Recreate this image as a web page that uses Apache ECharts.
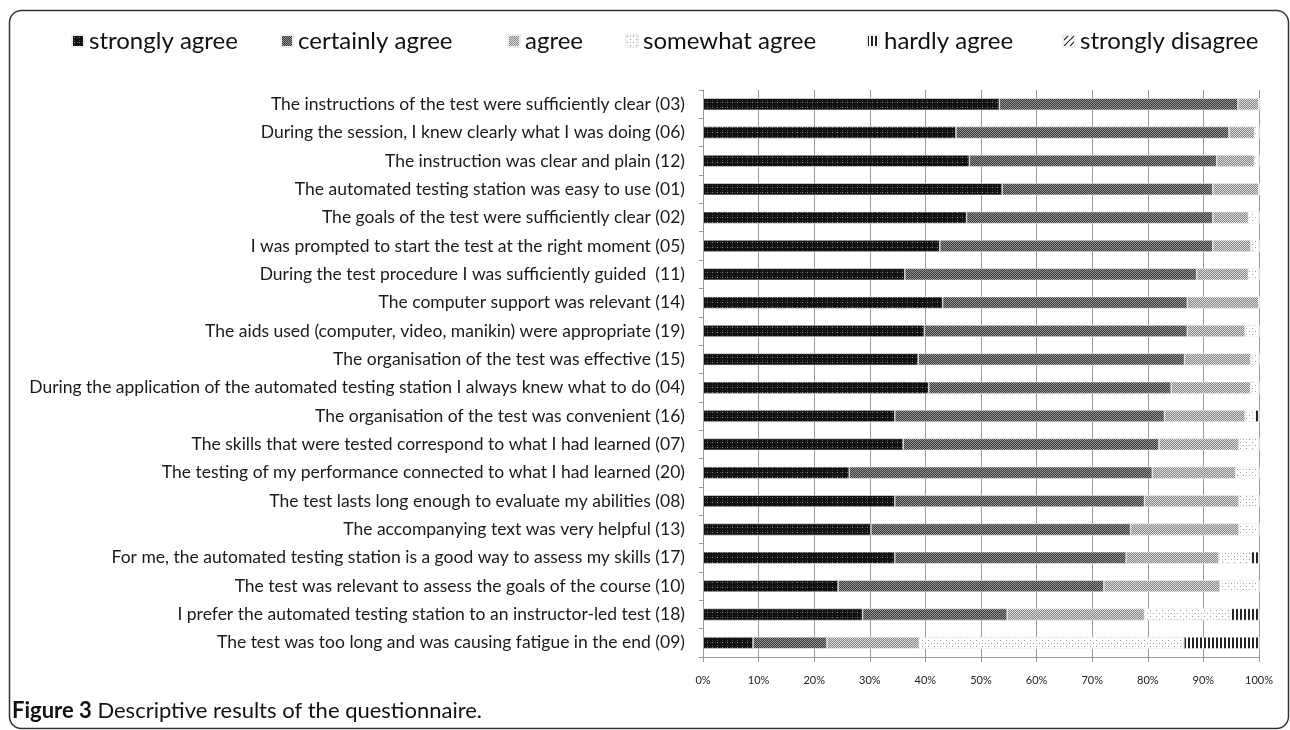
<!DOCTYPE html>
<html>
<head>
<meta charset="utf-8">
<script src="https://cdn.jsdelivr.net/npm/echarts@6/dist/echarts.min.js"></script>
<style>
html,body{margin:0;padding:0;background:#fff;}
#main{width:1290px;height:730px;}
</style>
</head>
<body>
<div id="main"></div>
<script>
const categories = [
  "The instructions of the test were sufficiently clear (03)",
  "During the session, I knew clearly what I was doing (06)",
  "The instruction was clear and plain (12)",
  "The automated testing station was easy to use (01)",
  "The goals of the test were sufficiently clear (02)",
  "I was prompted to start the test at the right moment (05)",
  "During the test procedure I was sufficiently guided  (11)",
  "The computer support was relevant (14)",
  "The aids used (computer, video, manikin) were appropriate (19)",
  "The organisation of the test was effective (15)",
  "During the application of the automated testing station I always knew what to do (04)",
  "The organisation of the test was convenient (16)",
  "The skills that were tested correspond to what I had learned (07)",
  "The testing of my performance connected to what I had learned (20)",
  "The test lasts long enough to evaluate my abilities (08)",
  "The accompanying text was very helpful (13)",
  "For me, the automated testing station is a good way to assess my skills (17)",
  "The test was relevant to assess the goals of the course (10)",
  "I prefer the automated testing station to an instructor-led test (18)",
  "The test was too long and was causing fatigue in the end (09)"
];
const seriesNames = ["strongly agree","certainly agree","agree","somewhat agree","hardly agree","strongly disagree"];
const stronglyAgree    = [53.3,45.5,47.9,53.8,47.4,42.6,36.3,43.1,39.8,38.7,40.6,34.5,36.0,26.3,34.5,30.2,34.5,24.3,28.7,9.0];
const certainlyAgree   = [42.9,49.1,44.5,37.9,44.3,49.1,52.5,44.0,47.3,47.9,43.6,48.5,46.0,54.5,44.9,46.7,41.6,47.8,26.0,13.3];
const agree            = [3.8,4.6,6.8,8.3,6.4,6.8,9.3,12.9,10.4,11.9,14.3,14.5,14.4,15.0,17.0,19.5,16.7,20.9,24.7,16.6];
const somewhatAgree    = [0,0.8,0.8,0,1.9,1.5,1.9,0,2.5,1.5,1.5,1.8,3.6,4.2,3.6,3.6,5.8,7.0,15.4,47.6];
const hardlyAgree      = [0,0,0,0,0,0,0,0,0,0,0,0.7,0,0,0,0,1.4,0,5.2,13.5];
const stronglyDisagree = [0,0,0,0,0,0,0,0,0,0,0,0,0,0,0,0,0,0,0,0];
const xTicks = [0,10,20,30,40,50,60,70,80,90,100];

function makePattern(w, h, draw) {
  const c = document.createElement('canvas');
  c.width = w; c.height = h;
  const ctx = c.getContext('2d');
  draw(ctx, w, h);
  return { image: c, repeat: 'repeat' };
}
const patterns = [
  makePattern(5, 5, (ctx) => { ctx.fillStyle = '#111'; ctx.fillRect(0,0,5,5); ctx.fillStyle = '#8a8a8a'; ctx.fillRect(2,2,1,1); ctx.fillStyle='#444'; ctx.fillRect(2,0,1,1); ctx.fillRect(0,2,1,1); }),
  makePattern(2, 2, (ctx) => { ctx.fillStyle = '#383838'; ctx.fillRect(0,0,2,2); ctx.fillStyle = '#959595'; ctx.fillRect(0,0,1,1); ctx.fillRect(1,1,1,1); }),
  makePattern(2, 2, (ctx) => { ctx.fillStyle = '#858585'; ctx.fillRect(0,0,2,2); ctx.fillStyle = '#dcdcdc'; ctx.fillRect(0,0,1,1); ctx.fillRect(1,1,1,1); }),
  makePattern(6, 6, (ctx) => { ctx.fillStyle = '#fff'; ctx.fillRect(0,0,6,6); ctx.fillStyle = '#9a9a9a'; ctx.fillRect(1,1,1,1); ctx.fillRect(4,4,1,1); ctx.fillStyle='#c8c8c8'; ctx.fillRect(4,1,1,1); }),
  makePattern(4, 4, (ctx) => { ctx.fillStyle = '#fff'; ctx.fillRect(0,0,4,4); ctx.fillStyle = '#222'; ctx.fillRect(0,0,2,4); }),
  makePattern(6, 6, (ctx) => { ctx.fillStyle = '#fff'; ctx.fillRect(0,0,6,6); ctx.strokeStyle = '#222'; ctx.lineWidth = 1.2; ctx.beginPath(); ctx.moveTo(0,6); ctx.lineTo(6,0); ctx.stroke(); })
];
const values = [stronglyAgree, certainlyAgree, agree, somewhatAgree, hardlyAgree, stronglyDisagree];

const legendLefts = [66, 275, 502, 620, 861, 1057];
const legends = seriesNames.map((n, i) => ({
  data: [n], left: legendLefts[i], top: 24, orient: 'horizontal',
  itemWidth: 12, itemHeight: 12, icon: 'rect',
  textStyle: { fontFamily: 'Lato', fontSize: 24, color: '#111' },
  selectedMode: false
}));

const chart = echarts.init(document.getElementById('main'), null, { renderer: 'canvas' });
chart.setOption({
  animation: false,
  backgroundColor: '#fff',
  legend: legends,
  grid: { left: 703, right: 31, top: 90, bottom: 73, containLabel: false },
  xAxis: {
    type: 'value', min: 0, max: 100, interval: 10,
    axisLine: { show: true, lineStyle: { color: '#999', width: 1 } },
    axisTick: { show: true, length: 5, lineStyle: { color: '#999' } },
    splitLine: { show: true, lineStyle: { color: '#999', width: 1 } },
    axisLabel: { formatter: '{value}%', fontFamily: 'Lato', fontSize: 11, color: '#222', margin: 18 }
  },
  yAxis: {
    type: 'category', data: categories, inverse: true, z: 10,
    axisLine: { show: true, lineStyle: { color: '#999', width: 1 } },
    axisTick: { show: true, length: 4, lineStyle: { color: '#999' } },
    axisLabel: { fontFamily: 'Lato', fontSize: 17.5, color: '#1a1a1a', margin: 18, align: 'right' }
  },
  series: seriesNames.map((n, i) => ({
    name: n, type: 'bar', stack: 'total', barWidth: 12,
    data: values[i],
    itemStyle: { color: patterns[i], borderColor: '#eee', borderWidth: 0.6 }
  })),
  graphic: [
    { type: 'rect', left: 7, top: 8, shape: { width: 1279, height: 718, r: 12 },
      style: { fill: 'none', stroke: '#333', lineWidth: 1.5 }, silent: true, z: 100 },
    { type: 'text', left: 12, top: 700,
      style: {
        text: '{b|Figure 3} Descriptive results of the questionnaire.',
        rich: { b: { fontWeight: 'bold', fontFamily: 'Lato', fontSize: 22, fill: '#111' } },
        fontFamily: 'Lato', fontSize: 22, fill: '#111'
      } }
  ]
});
</script>
</body>
</html>
